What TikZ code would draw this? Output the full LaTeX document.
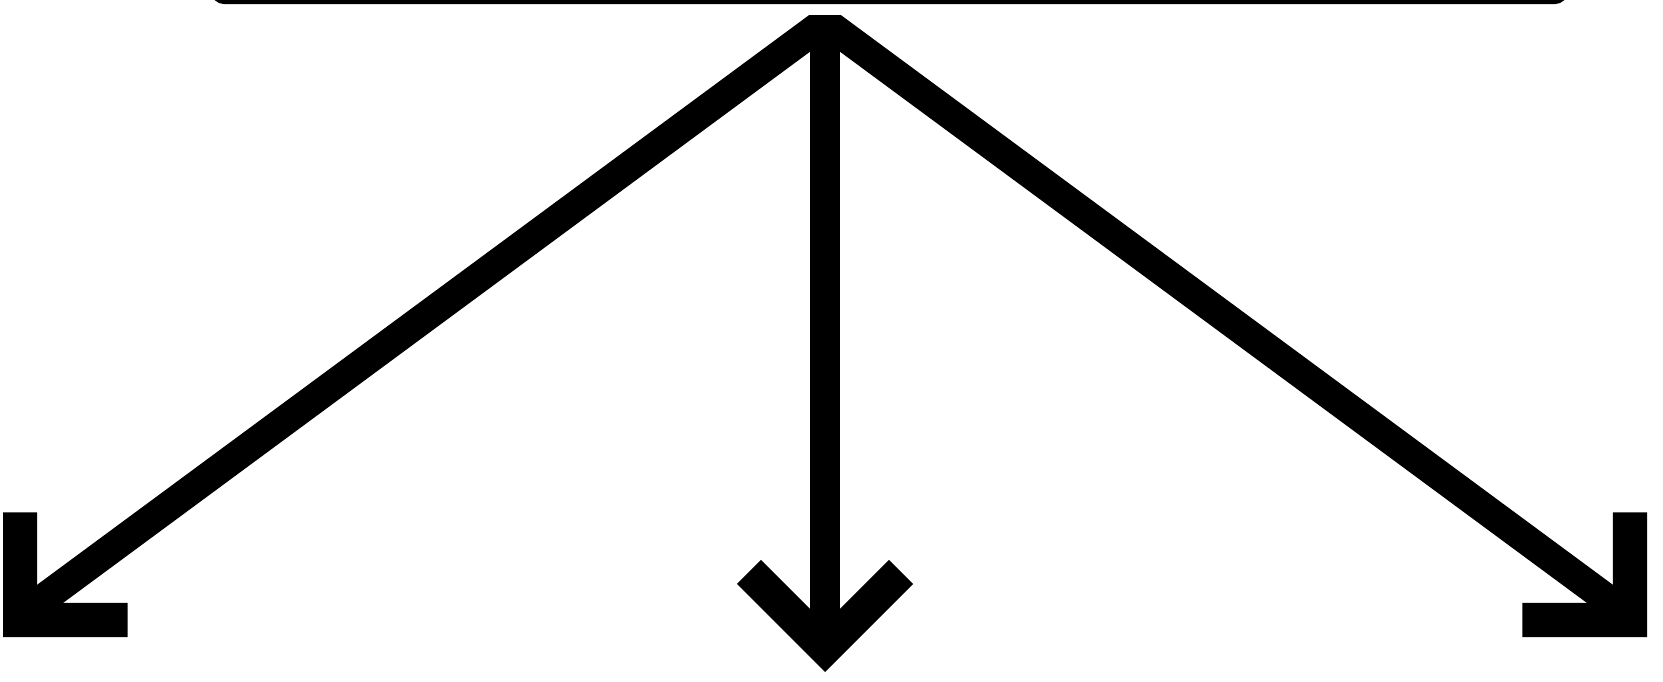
\documentclass[tikz,border=0pt]{standalone}
\usetikzlibrary{arrows.meta,positioning}
\tikzset{
  rootbox/.style={draw=black,line width=0.06cm,rounded corners=0.1cm,fill=white,
                  minimum width=13.5cm,minimum height=2cm,inner sep=0pt},
  branch/.style={-{Straight Barb[sharp,length=0.76cm,width=1.52cm,line width=0.34cm]},
                 line width=0.3cm,black},
}
\begin{document}
\begin{tikzpicture}[x=0.01cm,y=-0.01cm]
\useasboundingbox (0,0) rectangle (1663,682);
\clip (0,0) rectangle (1663,682);

% --- parent box, cut off by the top edge ---
\node[rootbox] (root) at (889.5,-99) {};

% --- where the three branches leave, and where they land ---
\coordinate (fork)   at (825,10);
\coordinate (lchild) at (3,637);
\coordinate (mchild) at (825,672);
\coordinate (rchild) at (1647,637);

\begin{scope}
\clip (0,16) rectangle (1663,682);
\draw[branch] (fork) -- (mchild);
\foreach \c/\dx in {lchild/32, rchild/-32}
  \draw[branch] ([yshift=-0.12cm]fork) -- ([shift={(\dx,-32)}]\c) -- (\c);
\end{scope}

\end{tikzpicture}
\end{document}
